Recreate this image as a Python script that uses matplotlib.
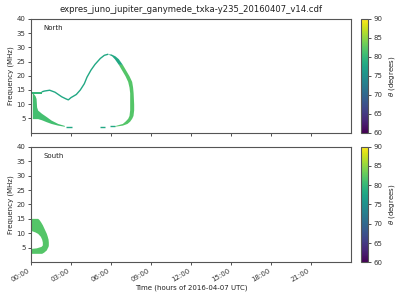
import numpy as np
import matplotlib
matplotlib.use("Agg")
import matplotlib.pyplot as plt
from matplotlib import cm, colors

# ---------------- data (hours, MHz, degrees) ----------------
title = "expres_juno_jupiter_ganymede_txka-y235_20160407_v14.cdf"
xtick_hours = [0, 3, 6, 9, 12, 15, 18, 21]
xtick_labels = ["00:00", "03:00", "06:00", "09:00", "12:00", "15:00", "18:00", "21:00"]
ytick_vals = [5, 10, 15, 20, 25, 30, 35, 40]
cbar_ticks = [60, 65, 70, 75, 80, 85, 90]

# North: left column (t=0)
north_col_t = [0.0, 0.1]
north_col_f = [4.9, 14.2]
north_col_theta = 77
# North: lower wedge
north_wedge_t = [0.1, 0.3, 0.38, 0.42, 0.5, 0.78, 1.15, 1.5, 2.0, 2.5]
north_wedge_hi = [14.2, 13.0, 12.0, 9.0, 7.9, 6.8, 5.6, 4.4, 3.2, 2.5]
north_wedge_lo = [4.9, 4.9, 4.9, 4.9, 4.9, 4.5, 3.8, 3.2, 2.6, 2.2]
north_wedge_theta = 81
# North: top band of the wedge
north_top_t = [0.1, 0.8]
north_top_f = [13.5, 14.3]
north_top_theta = 80
# North: thin upper curve
north_curve_t = [0.8, 1.0, 1.4, 1.8, 2.3, 2.6, 2.8, 3.0, 3.4, 3.7, 4.0, 4.2, 4.5,
                 4.8, 5.2, 5.5, 5.8]
north_curve_f = [14.3, 14.6, 14.9, 14.2, 12.6, 11.9, 11.5, 12.3, 13.4, 15.0, 17.2,
                 19.5, 22.0, 24.0, 26.1, 27.2, 27.6]
north_curve_theta = 78
# North: thick right side
north_right_f = [27.7, 27.0, 26.0, 24.0, 22.0, 20.0, 18.0, 16.0, 14.0, 12.0, 10.0,
                 8.0, 6.0, 5.0, 4.0, 3.2, 2.6, 2.3]
north_right_tin = [5.75, 6.05, 6.25, 6.55, 6.8, 7.05, 7.25, 7.35, 7.4, 7.4, 7.4,
                   7.4, 7.35, 7.25, 7.05, 6.85, 6.4, 6.2]
north_right_tout = [6.0, 6.3, 6.55, 6.85, 7.1, 7.35, 7.55, 7.62, 7.66, 7.68, 7.7,
                    7.7, 7.65, 7.55, 7.4, 7.2, 6.85, 6.4]
north_right_theta_top = 78
north_right_theta = 82
# North: dashed lower segments
north_seg_t0 = [2.6, 5.2, 5.95]
north_seg_t1 = [3.05, 5.55, 6.3]
north_seg_f = [1.9, 2.1, 2.3]
north_seg_theta = 78

# South: crescent
south_f = [15.2, 14.8, 14.0, 13.0, 12.0, 11.0, 10.5, 10.0, 9.0, 8.0, 7.0, 6.0,
           5.5, 5.0, 4.8, 4.3, 3.5, 3.1]
south_tin = [0.0, 0.0, 0.0, 0.0, 0.0, 0.0, 0.3, 0.5, 0.7, 0.8, 0.85, 0.85,
             0.75, 0.4, 0.0, 0.0, 0.0, 0.0]
south_tout = [0.5, 0.6, 0.72, 0.85, 0.95, 1.05, 1.1, 1.15, 1.22, 1.28, 1.3, 1.3,
              1.28, 1.22, 1.2, 1.15, 0.95, 0.8]
south_theta = 82
south_col_f = [10.8, 15.0]
south_col_theta = 77

# ---------------- drawing ----------------
cmap = plt.get_cmap("viridis")
norm = colors.Normalize(vmin=60, vmax=90)
c = lambda th: cmap(norm(th))

fig = plt.figure(figsize=(4, 3), dpi=100)
ax1 = fig.add_axes([0.0775, 0.5583, 0.8, 0.3784])
ax2 = fig.add_axes([0.0775, 0.1257, 0.8, 0.3853])
cax1 = fig.add_axes([0.9025, 0.5583, 0.0175, 0.3784])
cax2 = fig.add_axes([0.9025, 0.1257, 0.0175, 0.3853])

# North
ax1.fill_between(north_wedge_t, north_wedge_lo, north_wedge_hi,
                 color=c(north_wedge_theta), lw=0)
ax1.fill_between(north_top_t, [north_top_f[0]] * 2, [north_top_f[1]] * 2,
                 color=c(north_top_theta), lw=0)
ax1.fill_between(north_col_t, [north_col_f[0]] * 2, [north_col_f[1]] * 2,
                 color=c(north_col_theta), lw=0)
ax1.plot(north_curve_t, north_curve_f, color=c(north_curve_theta), lw=1.0,
         solid_capstyle="butt")
ax1.fill_betweenx(north_right_f[:4], north_right_tin[:4], north_right_tout[:4],
                  color=c(north_right_theta_top), lw=0)
ax1.fill_betweenx(north_right_f[3:], north_right_tin[3:], north_right_tout[3:],
                  color=c(north_right_theta), lw=0)
for t0, t1, f in zip(north_seg_t0, north_seg_t1, north_seg_f):
    ax1.plot([t0, t1], [f, f], color=c(north_seg_theta), lw=1.0,
             solid_capstyle="butt")

# South
ax2.fill_betweenx(south_f, south_tin, south_tout, color=c(south_theta), lw=0)
ax2.fill_betweenx(south_col_f, [0, 0], [0.1, 0.1], color=c(south_col_theta), lw=0)

for ax, lab in [(ax1, "North"), (ax2, "South")]:
    ax.set_xlim(0, 24)
    ax.set_ylim(0, 40)
    ax.set_xticks(xtick_hours)
    ax.set_yticks(ytick_vals)
    ax.tick_params(labelsize=5, length=2.5, width=0.6, colors="#333333",
                   pad=1.5)
    for s in ax.spines.values():
        s.set_linewidth(0.8)
        s.set_color("#555555")
    ax.set_ylabel("Frequency (MHz)", fontsize=5, labelpad=2, color="#222222")
    ax.text(0.04, 0.9, lab, transform=ax.transAxes, fontsize=5, color="#222222")

ax1.set_xticklabels([])
ax2.set_xticklabels(xtick_labels, rotation=30, ha="right")
ax2.set_xlabel("Time (hours of 2016-04-07 UTC)", fontsize=5, labelpad=1,
               color="#222222")
ax1.set_title(title, fontsize=6.1, pad=5, color="#222222")

sm = cm.ScalarMappable(norm=norm, cmap=cmap)
for cax in (cax1, cax2):
    cb = fig.colorbar(sm, cax=cax, ticks=cbar_ticks)
    cb.ax.tick_params(labelsize=5, length=2.5, width=0.6, colors="#333333", pad=1.5)
    cb.outline.set_linewidth(0.8)
    cb.outline.set_edgecolor("#555555")
    cb.set_label(r"$\theta$ (degrees)", fontsize=5, labelpad=3, color="#222222")

fig.savefig("out.png", dpi=100)
